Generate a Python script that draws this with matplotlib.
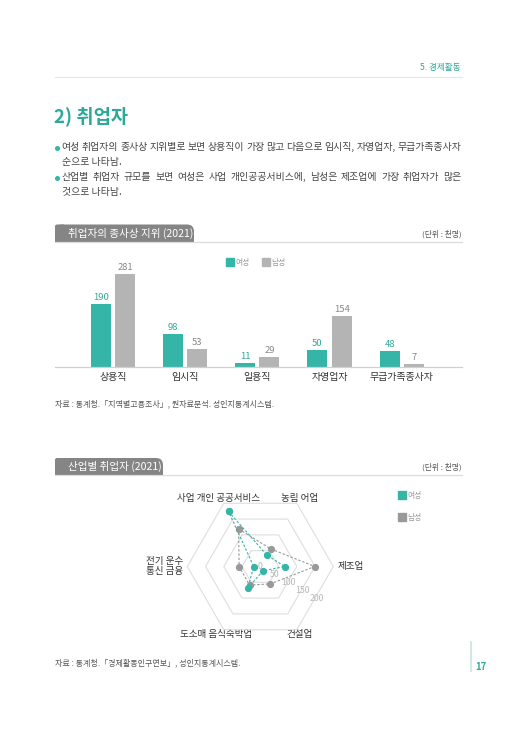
import numpy as np
import matplotlib
matplotlib.use("Agg")
import matplotlib.pyplot as plt
from matplotlib.patches import FancyBboxPatch, Rectangle
from matplotlib.lines import Line2D

plt.rcParams['font.family'] = ['Noto Sans CJK KR', 'DejaVu Sans']

# ---------------- data ----------------
status_categories = ['상용직', '임시직', '일용직', '자영업자', '무급가족종사자']
status_female = [190, 98, 11, 50, 48]
status_male = [281, 53, 29, 154, 7]

industry_categories = ['사업 개인 공공서비스', '농림 어업', '제조업', '건설업',
                       '도소매 음식숙박업', '전기 운수\n통신 금융']
industry_female = [174, 36, 67, 14, 69, 18]
industry_male = [119, 56, 149, 55, 59, 58]
radar_ticks = [0, 50, 100, 150, 200]

legend_labels = ['여성', '남성']

TEAL = '#35b5a7'
TEAL_TXT = '#2ea999'
GRAY_BAR = '#b4b4b4'
GRAY_RADAR = '#999999'
TAB_GRAY = '#858585'
TXT = '#333333'

W, H = 516, 729
fig = plt.figure(figsize=(W / 100, H / 100), dpi=100)
fig.patch.set_facecolor('white')

page = fig.add_axes([0, 0, 1, 1])
page.set_xlim(0, W)
page.set_ylim(H, 0)
page.axis('off')


def px_axes(x0, y0, x1, y1, **kw):
    return fig.add_axes([x0 / W, 1 - y1 / H, (x1 - x0) / W, (y1 - y0) / H], **kw)


renderer = fig.canvas.get_renderer()


def justified(words, x0, x1, y, **kw):
    ts = [page.text(0, y, w, va='center', ha='left', **kw) for w in words]
    widths = [t.get_window_extent(renderer).width for t in ts]
    gap = (x1 - x0 - sum(widths)) / (len(words) - 1)
    x = x0
    for t, w in zip(ts, widths):
        t.set_x(x)
        x += w + gap


# ---------------- header ----------------
page.text(461, 67, '5. 경제활동', color=TEAL_TXT, fontsize=6.2, ha='right', va='center')
page.plot([55, 461.5], [77, 77], color='#e6e6e6', lw=0.8)

page.text(54, 116, '2) 취업자', color=TEAL_TXT, fontsize=13.5, fontweight='bold',
          ha='left', va='center')

body_kw = dict(color='#444444', fontsize=7.1)
for yb in (147.5, 177.5):
    page.plot([56.8], [yb], 'o', color=TEAL, ms=2.6)
justified('여성 취업자의 종사상 지위별로 보면 상용직이 가장 많고 다음으로 임시직, 자영업자, 무급가족종사자'.split(),
          61.7, 461.5, 146.5, **body_kw)
page.text(61.7, 161.5, '순으로 나타남.', va='center', ha='left', **body_kw)
justified('산업별 취업자 규모를 보면 여성은 사업 개인공공서비스에, 남성은 제조업에 가장 취업자가 많은'.split(),
          61.7, 461.5, 176.5, **body_kw)
page.text(61.7, 191.5, '것으로 나타남.', va='center', ha='left', **body_kw)


def section_tab(x0, x1, y0, y1, title):
    page.add_patch(FancyBboxPatch((x0, y0), x1 - x0, y1 - y0,
                                  boxstyle='round,pad=0,rounding_size=7',
                                  facecolor=TAB_GRAY, edgecolor='none', zorder=2))
    page.add_patch(Rectangle((x0, y0 + 7), x1 - x0, y1 - y0 - 7,
                             facecolor=TAB_GRAY, edgecolor='none', zorder=2))
    page.add_patch(FancyBboxPatch((x0, y0), 10, y1 - y0,
                                  boxstyle='round,pad=0,rounding_size=2',
                                  facecolor=TAB_GRAY, edgecolor='none', zorder=2))
    page.add_patch(Rectangle((x0, y0 + 3), 10, y1 - y0 - 3,
                             facecolor=TAB_GRAY, edgecolor='none', zorder=2))
    page.plot([x0, 461.5], [y1, y1], color='#dcdcdc', lw=0.9, zorder=3)
    page.text(x0 + 13.5, (y0 + y1) / 2, title, color='white', fontsize=7.6,
              ha='left', va='center', zorder=4)
    page.text(461.5, (y0 + y1) / 2 + 1, '(단위 : 천명)', color='#555555',
              fontsize=5.6, ha='right', va='center')


# ---------------- bar chart ----------------
section_tab(55, 194, 224.5, 241.5, '취업자의 종사상 지위 (2021)')

axb = px_axes(55, 250, 461.7, 366.7)
x = np.arange(len(status_categories))
bw = 0.277
off = 0.168
b1 = axb.bar(x - off, status_female, bw, color=TEAL, label=legend_labels[0])
b2 = axb.bar(x + off, status_male, bw, color=GRAY_BAR, label=legend_labels[1])
axb.set_xlim(-0.802, 4.831)
axb.set_ylim(0, 353.6)
for s in ('top', 'right', 'left'):
    axb.spines[s].set_visible(False)
axb.spines['bottom'].set_color('#d0d0d0')
axb.spines['bottom'].set_linewidth(0.9)
axb.set_yticks([])
axb.set_xticks(x)
axb.set_xticklabels(status_categories, fontsize=7.2, color=TXT)
axb.tick_params(axis='x', length=0, pad=3.5)
axb.set_facecolor('none')
for rect, v in zip(b1, status_female):
    axb.annotate(f'{v}', (rect.get_x() + rect.get_width() / 2, v), xytext=(0, 1.5),
                 textcoords='offset points', ha='center', va='bottom',
                 fontsize=6.8, color=TEAL_TXT)
for rect, v in zip(b2, status_male):
    axb.annotate(f'{v}', (rect.get_x() + rect.get_width() / 2, v), xytext=(0, 1.5),
                 textcoords='offset points', ha='center', va='bottom',
                 fontsize=6.8, color='#888888')
hb_f = Line2D([], [], marker='s', ls='none', color=TEAL, ms=6.3)
hb_m = Line2D([], [], marker='s', ls='none', color=GRAY_BAR, ms=6.3)
axb.legend(handles=[hb_f, hb_m], labels=legend_labels, loc='center',
           bbox_to_anchor=(256 / W, 1 - 263 / H), bbox_transform=fig.transFigure,
           ncol=2, frameon=False, fontsize=5.6, labelcolor='#999999',
           handlelength=0.9, handletextpad=0.3,
           columnspacing=1.6, borderaxespad=0, borderpad=0)

page.text(55, 404, '자료 : 통계청.「지역별고용조사」, 원자료분석. 성인지통계시스템.',
          color='#555555', fontsize=5.8, ha='left', va='center')

# ---------------- radar chart ----------------
section_tab(55, 163, 458, 475, '산업별 취업자 (2021)')

cx, cy, R = 260.3, 566.5, 73
axr = px_axes(cx - R, cy - R, cx + R, cy + R, projection='polar')
axr.set_facecolor('none')
axr.set_ylim(0, radar_ticks[-1])
axr.grid(False)
axr.spines['polar'].set_visible(False)
axr.set_xticks([])
axr.set_yticks([])

n = len(industry_categories)
theta = np.deg2rad(120 - 60 * np.arange(n))
theta_c = np.append(theta, theta[0])
for r in radar_ticks[1:]:
    axr.plot(theta_c, [r] * (n + 1), color='#dedede', lw=0.8, zorder=1, clip_on=False)
for r in radar_ticks:
    axr.text(np.deg2rad(-30), r * 0.89, str(r), color='#b8b8b8', fontsize=6.3,
             ha='center', va='center', zorder=2)

fem_c = np.append(industry_female, industry_female[0])
mal_c = np.append(industry_male, industry_male[0])
axr.plot(theta_c, mal_c, color=GRAY_RADAR, lw=0.8, ls=(0, (2.2, 1.6)),
         marker='o', ms=4.2, zorder=3, clip_on=False)
axr.plot(theta_c, fem_c, color=TEAL, lw=0.8, ls=(0, (2.2, 1.6)),
         marker='o', ms=4.2, zorder=4, clip_on=False)

label_pos = [(218.5, 498.5, 'center'), (300, 498.5, 'center'), (338, 566.5, 'left'),
             (300, 635, 'center'), (216.5, 635, 'center'), (183, 566.5, 'right')]
for (lx, ly, ha), lab in zip(label_pos, industry_categories):
    page.text(lx, ly, lab, color=TXT, fontsize=6.9, ha=ha, va='center',
              multialignment='right' if ha == 'right' else 'center', linespacing=1.15)

h_f = Line2D([], [], marker='s', ls='none', color=TEAL, ms=6.3)
h_m = Line2D([], [], marker='s', ls='none', color=GRAY_RADAR, ms=6.3)
page.legend(handles=[h_f, h_m], labels=legend_labels, loc='upper left',
            bbox_to_anchor=(398 / W, 1 - 492 / H), bbox_transform=fig.transFigure,
            frameon=False, fontsize=5.6, labelcolor='#999999',
            handlelength=0.9, handletextpad=0.3, labelspacing=1.75, borderaxespad=0,
            borderpad=0)

page.text(55, 663, '자료 : 통계청.「경제활동인구연보」, 성인지통계시스템.',
          color='#555555', fontsize=5.8, ha='left', va='center')

# ---------------- page number ----------------
page.plot([471, 471], [642, 671], color='#cde7e3', lw=1.3)
page.text(475, 667.5, '17', color=TEAL_TXT, fontsize=6.8, ha='left', va='center',
          fontweight='bold')

fig.savefig('out.png', dpi=100, facecolor='white')
